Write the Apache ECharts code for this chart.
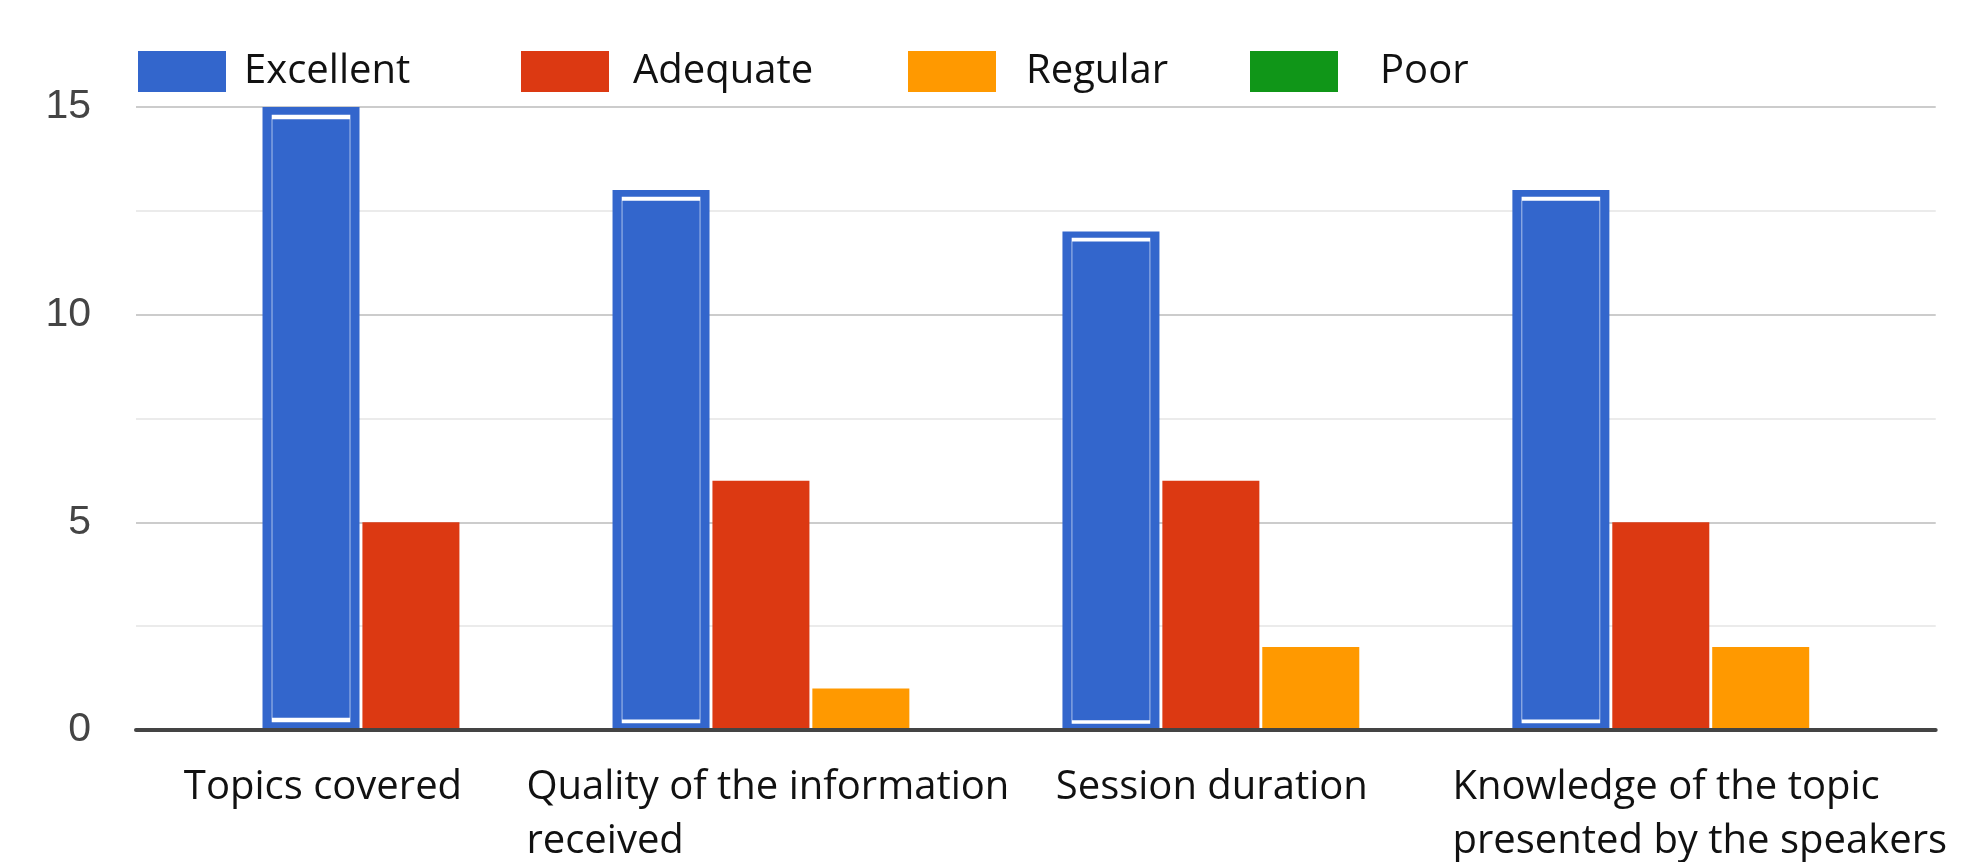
<!DOCTYPE html>
<html>
<head>
<meta charset="utf-8">
<script src="https://cdn.jsdelivr.net/npm/echarts@6/dist/echarts.min.js"></script>
<style>
html,body{margin:0;padding:0;background:#fff;}
#chart{width:1971px;height:862px;}
</style>
</head>
<body>
<div id="chart"></div>
<script>
// ---- data ----
const categories = ['Topics covered', 'Quality of the information\nreceived', 'Session duration', 'Knowledge of the topic\npresented by the speakers'];
const seriesNames = ['Excellent', 'Adequate', 'Regular', 'Poor'];
const excellent = [15, 13, 12, 13];
const adequate = [5, 6, 6, 5];
const regular = [null, 1, 2, 2];
const poor = [null, 0, 0, 0];
const yTicks = [0, 5, 10, 15];

// ---- helpers ----
const colors = ['#3366cc', '#dc3912', '#ff9900', '#109618'];
const shortGroup = categories.map((_, i) => regular[i] == null && poor[i] == null);
const onMain = arr => arr.map((v, i) => (shortGroup[i] || v == null) ? '-' : v);
const onSolo = arr => arr.map((v, i) => (!shortGroup[i] || v == null) ? '-' : v);

const BW = 97, GAP = '3%';
function bar(name, data, color, axis, extra) {
  return Object.assign({
    type: 'bar', name: name, data: data, xAxisIndex: axis,
    barWidth: BW, barGap: GAP, itemStyle: { color: color },
    emphasis: { disabled: true }, silent: true, animation: false
  }, extra || {});
}
function inner(name, data, axis) {
  return {
    type: 'pictorialBar', name: name, data: data, xAxisIndex: axis,
    barWidth: BW, barGap: GAP, symbol: 'rect', symbolSize: [78, '96.8%'],
    symbolPosition: 'center', z: 3,
    itemStyle: { color: colors[0], borderColor: '#ffffff', borderWidth: 3 },
    emphasis: { disabled: true }, silent: true, animation: false
  };
}
const blank = categories.map(() => '-');

const series = [
  bar(seriesNames[0], onMain(excellent), colors[0], 0),
  bar(seriesNames[1], onMain(adequate), colors[1], 0),
  bar(seriesNames[2], onMain(regular), colors[2], 0),
  bar(seriesNames[3], onMain(poor), colors[3], 0, { barMinHeight: 2 }),
  inner(seriesNames[0], onMain(excellent), 0),
  inner('_p1', blank, 0),
  inner('_p2', blank, 0),
  inner('_p3', blank, 0),
  bar(seriesNames[0], onSolo(excellent), colors[0], 1),
  bar(seriesNames[1], onSolo(adequate), colors[1], 1),
  inner(seriesNames[0], onSolo(excellent), 1),
  inner('_p4', blank, 1)
];

const legendLeft = [138, 521, 908, 1250];
const legendPad = [13, 19, 25, 37];
const legends = seriesNames.map((n, i) => ({
  data: [n], left: legendLeft[i], top: 51, itemWidth: 88, itemHeight: 41,
  icon: 'rect', selectedMode: false, padding: 0,
  itemStyle: { borderWidth: 0 },
  formatter: '{t|{name}}',
  textStyle: {
    rich: { t: { fontFamily: 'Open Sans', fontSize: 40, color: '#111', padding: [0, 0, 0, legendPad[i]] } }
  }
}));

const labelShift = [76, 86, 98, 22];
const rich = {};
labelShift.forEach((s, i) => {
  rich['c' + i] = { fontFamily: 'Open Sans', fontSize: 40, color: '#111', lineHeight: 54, align: 'left', padding: [0, s, 0, 0] };
});

const option = {
  backgroundColor: '#ffffff',
  animation: false,
  legend: legends,
  grid: { left: 136, top: 107, width: 1808, bottom: 127, containLabel: false },
  xAxis: [
    {
      type: 'category', data: categories, z: 5,
      axisLine: { show: true, lineStyle: { color: '#444', width: 4 } },
      axisTick: { show: false },
      axisLabel: {
        interval: 0, margin: 31,
        formatter: (v, i) => '{c' + i + '|' + v + '}',
        rich: rich
      }
    },
    { type: 'category', data: categories, show: false }
  ],
  yAxis: {
    type: 'value', min: yTicks[0], max: yTicks[yTicks.length - 1], interval: yTicks[1] - yTicks[0],
    axisLine: { show: false }, axisTick: { show: false },
    axisLabel: { margin: 45, fontFamily: 'Liberation Sans', fontSize: 41, color: '#444' },
    splitLine: { lineStyle: { color: '#cccccc', width: 2 } },
    minorTick: { show: false, splitNumber: 2 },
    minorSplitLine: { show: true, lineStyle: { color: '#ebebeb', width: 2 } }
  },
  series: series
};

const chart = echarts.init(document.getElementById('chart'), null, { renderer: 'canvas' });
chart.setOption(option);
</script>
</body>
</html>
